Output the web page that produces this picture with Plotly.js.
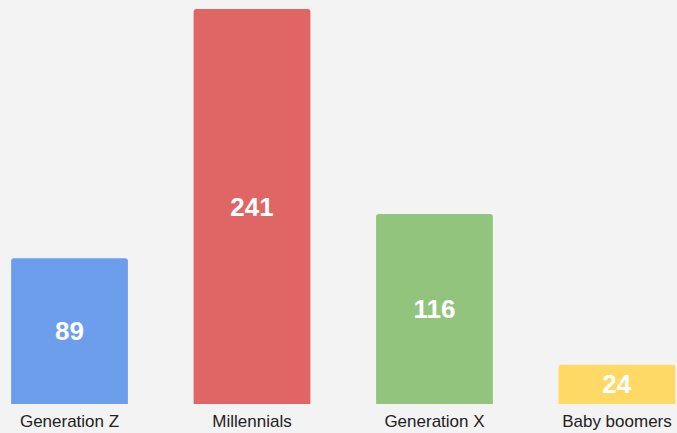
<!DOCTYPE html>
<html><head><meta charset="utf-8">
<script src="https://cdn.plot.ly/plotly-3.0.1.min.js"></script>
<style>html,body{margin:0;padding:0;background:#f3f3f3;}#chart{width:677px;height:433px;}</style>
</head><body><div id="chart"></div>
<script>
const categories = ["Generation Z", "Millennials", "Generation X", "Baby boomers"];
const values = [89, 241, 116, 24];
const colors = ["#6d9eeb", "#e06666", "#93c47d", "#ffd966"];

const trace = {
  type: 'bar',
  x: categories,
  y: values,
  text: values.map(String),
  textposition: 'inside',
  insidetextanchor: 'middle',
  textangle: 0,
  textfont: {family: 'Arial, Liberation Sans, sans-serif', size: 26, color: '#ffffff', weight: 'bold'},
  marker: {color: colors, cornerradius: 3},
  hoverinfo: 'none'
};
const layout = {
  width: 677, height: 433,
  margin: {l: 0, r: 0, t: 9, b: 29},
  paper_bgcolor: '#f3f3f3', plot_bgcolor: '#f3f3f3',
  bargap: 0.36,
  showlegend: false,
  xaxis: {range: [-0.381, 3.329], showgrid: false, zeroline: false, showline: false, ticks: '',
          ticklabelstandoff: 5,
          tickfont: {family: 'Arial, Liberation Sans, sans-serif', size: 17, color: '#222222'}},
  yaxis: {range: [0, 241], visible: false, showgrid: false, zeroline: false},
  uniformtext: {mode: 'show', minsize: 26}
};
Plotly.newPlot('chart', [trace], layout, {displayModeBar: false, staticPlot: true});
</script></body></html>
